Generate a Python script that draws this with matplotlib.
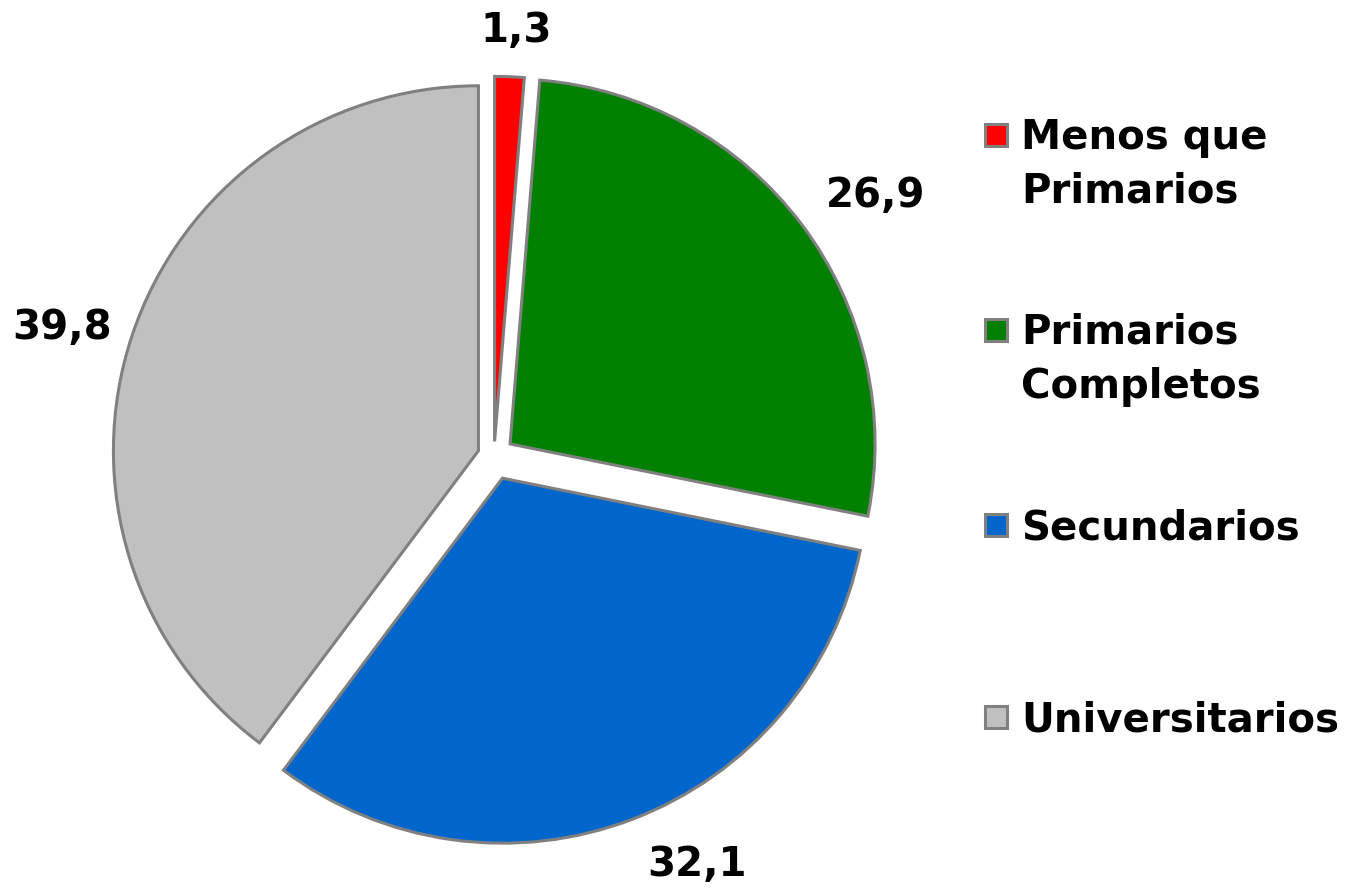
import matplotlib.pyplot as plt
from matplotlib.patches import Rectangle
import numpy as np

categories = ["Menos que\nPrimarios", "Primarios\nCompletos", "Secundarios", "Universitarios"]
values = [1.3, 26.9, 32.1, 39.8]
value_labels = ["1,3", "26,9", "32,1", "39,8"]
colors = ["#FF0000", "#008000", "#0066CC", "#C0C0C0"]

W, H, dpi = 1350, 888, 100
cx, cy, R = 494, 456, 365   # pie centre and radius in pixels

fig = plt.figure(figsize=(W / dpi, H / dpi), dpi=dpi)
ax = fig.add_axes([0, 0, 1, 1])

wedges, _ = ax.pie(values, colors=colors, startangle=90, counterclock=False,
                   explode=[0.04, 0.055, 0.065, 0.045], radius=1.0, center=(0, 0),
                   wedgeprops=dict(edgecolor="#808080", linewidth=2.2),
                   frame=True)
ax.set_xlim(-cx / R, (W - cx) / R)
ax.set_ylim(-(H - cy) / R, cy / R)
ax.set_aspect("auto")
ax.axis("off")

# value labels outside each slice
dists = [1.165, 1.265, 1.25, 1.235]
ang_shift = [-0.6, -2.7, 5.5, 1.9]   # degrees, counter-clockwise
for w, txt, d, s in zip(wedges, value_labels, dists, ang_shift):
    ang = np.deg2rad((w.theta1 + w.theta2) / 2 + s)
    ax.text(d * np.cos(ang), d * np.sin(ang), txt, ha="center", va="center",
            fontsize=29, fontweight="bold", color="black")

# legend drawn by hand (square + text), pixel positions from top-left
leg_x, sq = 985, 22
leg_y = [135, 330, 525, 717]
for lab, col, y in zip(categories, colors, leg_y):
    fig.patches.append(Rectangle((leg_x / W, 1 - (y + sq / 2) / H), sq / W, sq / H,
                                 transform=fig.transFigure, facecolor=col,
                                 edgecolor="#808080", linewidth=2.2))
    fig.text((leg_x + sq + 14) / W, 1 - (y - 17) / H, lab, ha="left", va="top",
             fontsize=29, fontweight="bold", linespacing=1.45)

fig.savefig("out.png", dpi=dpi)
